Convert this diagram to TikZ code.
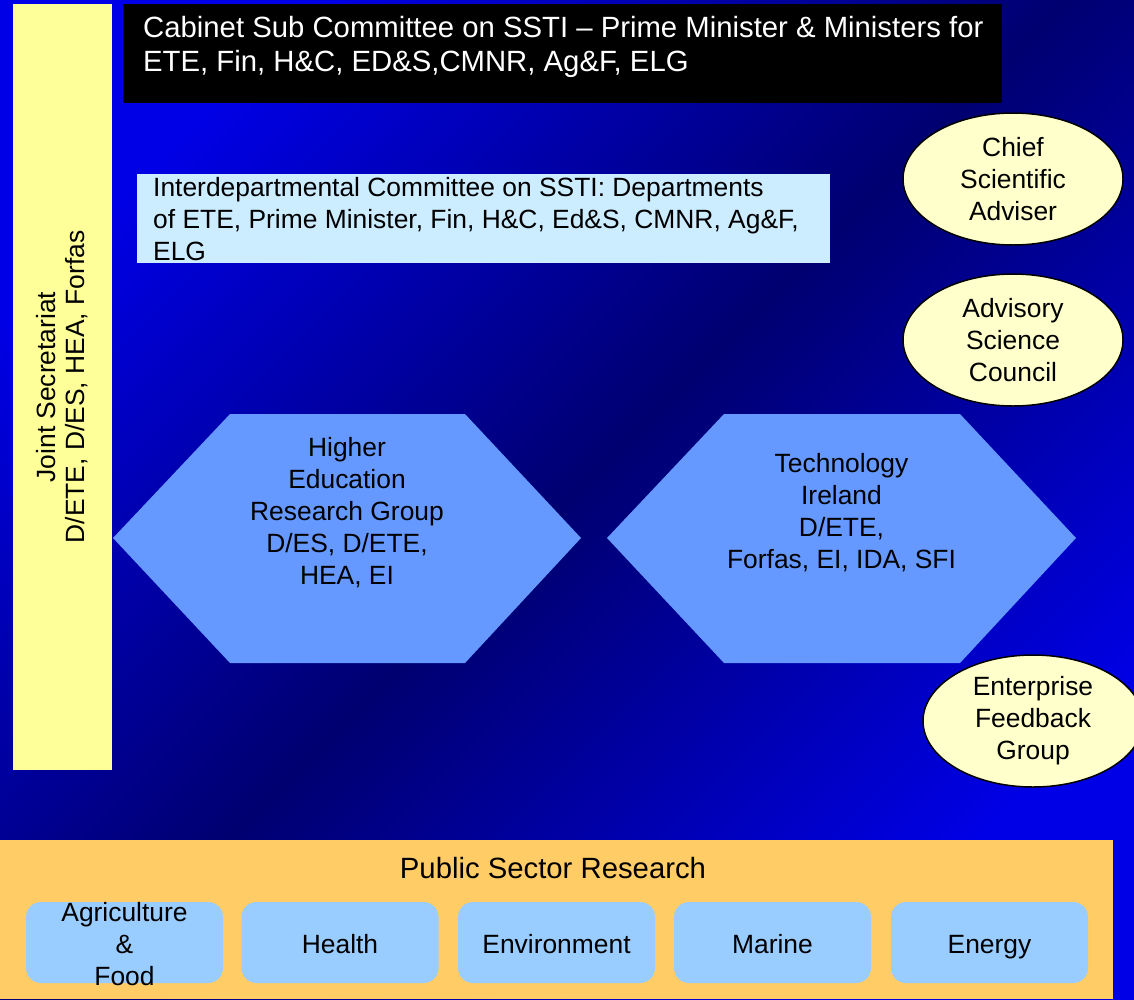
\documentclass[tikz,border=0pt]{standalone}
\usepackage{fontspec}
\setmainfont{Liberation Sans}
\usetikzlibrary{shapes.geometric}

\definecolor{bgbright}{RGB}{0,0,230}
\definecolor{bgdark}{RGB}{0,0,112}
\definecolor{jsyellow}{HTML}{FFFF99}
\definecolor{idcblue}{HTML}{CCECFF}
\definecolor{hexblue}{HTML}{6699FF}
\definecolor{advyellow}{HTML}{FFFFCC}
\definecolor{psrorange}{HTML}{FFCC66}
\definecolor{sectblue}{HTML}{99CCFF}
\newcommand{\labstrut}{\rule[-6pt]{0pt}{34pt}}

\begin{document}
\begin{tikzpicture}[x=1pt,y=-1pt,
    bigtxt/.style={font=\fontsize{29.3}{34}\selectfont},
    midtxt/.style={font=\fontsize{26.4}{32}\selectfont,align=center},
    adviser/.style={ellipse,draw=black,line width=1.5pt,fill=advyellow,
        minimum width=220pt,minimum height=132pt,inner sep=0pt,midtxt},
    sector/.style={rounded corners=15pt,fill=sectblue,
        minimum width=197pt,minimum height=81pt,inner sep=0pt,midtxt}]
    \clip (0,0) rectangle (1134,999);
    \shade[top color=bgbright,bottom color=bgbright,middle color=bgdark,
        shading angle=45] (0,0) rectangle (1134,999);
    % secretariat bar
    \node[fill=jsyellow,rotate=90,minimum width=766pt,minimum height=99pt,
        inner sep=0pt,align=center,font=\fontsize{26.4}{29}\selectfont]
        (secretariat) at (62,387)
        {Joint Secretariat\\D/ETE, D/ES, HEA, Forfas};
    % cabinet
    \node[fill=black,minimum width=879pt,minimum height=99pt,inner sep=0pt,
        anchor=north west] (cabinet) at (123,4) {};
    \node[bigtxt,text=white,align=left,anchor=west,inner sep=0pt] (cabtext) at (143,47)
        {Cabinet Sub Committee on SSTI – Prime Minister \& Ministers for\\
         ETE, Fin, H\&C, ED\&S,CMNR, Ag\&F, ELG};
    % interdepartmental
    \node[fill=idcblue,minimum width=693pt,minimum height=89pt,inner sep=0pt,
        anchor=north west] (interdept) at (137,174) {};
    \node[midtxt,align=left,anchor=west,inner sep=0pt] (idctext) at (153,219)
        {Interdepartmental Committee on SSTI: Departments\\
         of ETE, Prime Minister, Fin, H\&C, Ed\&S, CMNR, Ag\&F,\\
         ELG};
    % advisers
    \node[adviser] (chief) at (1013,179) {Chief\\Scientific\\Adviser};
    \node[adviser] (council) at (1013,340) {Advisory\\Science\\Council};
    \node[adviser] (feedback) at (1033,721) {Enterprise\\Feedback\\Group};
    % groups
    \fill[hexblue] (113,538) -- (230,414) -- (465,414) -- (581,538)
        -- (465,663) -- (230,663) -- cycle;
    \node[midtxt] (hergroup) at (347,513)
        {Higher\\Education\\Research Group\\D/ES, D/ETE,\\HEA, EI};
    \fill[hexblue] (607,538) -- (724,414) -- (960,414) -- (1076,538)
        -- (960,663) -- (724,663) -- cycle;
    \node[midtxt] (techireland) at (841.5,513)
        {Technology\\Ireland\\D/ETE,\\Forfas, EI, IDA, SFI};
    % public sector research
    \fill[psrorange] (0,840) rectangle (1113,999);
    \node[bigtxt] (psr) at (553,868) {Public Sector Research};
    \node[sector] (agri) at (124.5,942.5) {};
    \node[midtxt,inner sep=0pt] (agritext) at (124.5,944) {Agriculture\\\&\\Food};
    \node[sector] (health) at (340,942.5) {\labstrut Health};
    \node[sector] (environment) at (556.5,942.5) {\labstrut Environment};
    \node[sector] (marine) at (772.5,942.5) {\labstrut Marine};
    \node[sector] (energy) at (989.5,942.5) {\labstrut Energy};
\end{tikzpicture}
\end{document}
